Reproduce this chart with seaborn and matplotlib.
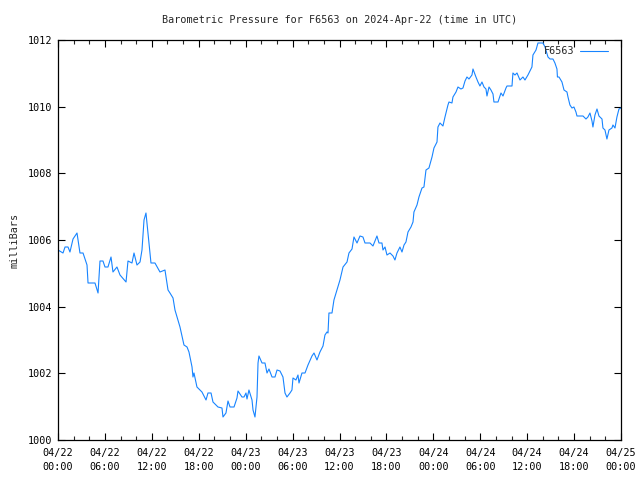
import matplotlib
matplotlib.use("Agg")
import matplotlib.pyplot as plt
import matplotlib.dates as mdates
import seaborn as sns
import pandas as pd
import numpy as np

# hours since 2024-04-22 00:00 UTC
hours = [0.0, 0.64, 0.90, 1.28, 1.53, 1.92, 2.43, 2.81, 3.20, 3.71, 3.84, 4.73, 5.12, 5.37, 5.75,
         6.01, 6.39, 6.78, 7.03, 7.54, 7.93, 8.70, 8.95, 9.46, 9.72, 10.10, 10.49, 10.74, 11.00,
         11.25, 11.51, 11.89, 12.40, 13.04, 13.68, 14.07, 14.32, 14.71, 14.96, 15.60, 16.11,
         16.50, 16.75, 17.14, 17.26, 17.39, 17.77, 18.41, 18.93, 19.18, 19.57, 19.82, 20.46,
         20.97, 21.10, 21.48, 21.74, 22.00, 22.51, 22.89, 23.02, 23.53, 23.79, 24.04, 24.17,
         24.42, 24.81, 24.94, 25.19, 25.45, 25.58, 25.70, 26.09, 26.47, 26.73, 26.98, 27.37,
         27.75, 28.01, 28.39, 28.77, 29.03, 29.28, 29.67, 29.92, 30.05, 30.43, 30.69, 30.82,
         31.20, 31.59, 31.97, 32.48, 32.74, 33.12, 33.50, 33.89, 34.14, 34.40, 34.53, 34.65,
         35.04, 35.29, 35.68, 36.06, 36.45, 36.96, 37.21, 37.60, 37.85, 38.24, 38.62, 39.00,
         39.26, 39.90, 40.28, 40.79, 41.05, 41.43, 41.56, 41.82, 42.07, 42.46, 42.84, 43.09,
         43.35, 43.73, 43.99, 44.25, 44.50, 44.76, 45.14, 45.40, 45.52, 45.91, 46.16, 46.55,
         46.80, 47.06, 47.44, 47.83, 48.08, 48.47, 48.59, 48.85, 49.23, 49.49, 49.87, 50.00,
         50.38, 50.51, 50.90, 51.15, 51.53, 51.79, 52.05, 52.30, 52.56, 52.94, 53.07, 53.45,
         53.71, 53.96, 54.22, 54.48, 54.73, 54.86, 55.12, 55.37, 55.63, 55.75, 56.27, 56.65,
         56.91, 57.29, 57.42, 58.06, 58.18, 58.44, 58.70, 59.08, 59.46, 59.72, 60.10, 60.61,
         60.74, 61.13, 61.38, 62.02, 62.28, 62.66, 62.92, 63.30, 63.55, 63.81, 63.87, 64.07,
         64.45, 64.71, 65.09, 65.22, 65.47, 65.73, 65.98, 66.24, 66.37, 67.14, 67.52, 67.77,
         68.03, 68.29, 68.41, 68.67, 68.93, 69.18, 69.57, 69.69, 69.95, 70.20, 70.46, 70.84,
         70.97, 71.23, 71.48, 71.74, 72.0]

pressure = [1005.70, 1005.61, 1005.79, 1005.79, 1005.64, 1006.03, 1006.21, 1005.61, 1005.61,
            1005.25, 1004.71, 1004.71, 1004.41, 1005.37, 1005.37, 1005.19, 1005.19, 1005.49,
            1005.04, 1005.19, 1004.95, 1004.74, 1005.37, 1005.31, 1005.61, 1005.25, 1005.34,
            1005.70, 1006.60, 1006.81, 1006.21, 1005.31, 1005.31, 1005.04, 1005.10, 1004.50,
            1004.41, 1004.26, 1003.90, 1003.39, 1002.85, 1002.79, 1002.64, 1002.19, 1001.89,
            1002.01, 1001.59, 1001.44, 1001.20, 1001.41, 1001.41, 1001.14, 1000.99, 1000.96,
            1000.69, 1000.81, 1001.17, 1000.99, 1000.99, 1001.26, 1001.47, 1001.29, 1001.29,
            1001.41, 1001.23, 1001.50, 1001.20, 1000.90, 1000.69, 1001.29, 1002.31, 1002.52,
            1002.31, 1002.31, 1002.01, 1002.13, 1001.89, 1001.89, 1002.10, 1002.07, 1001.89,
            1001.41, 1001.29, 1001.41, 1001.50, 1001.86, 1001.80, 1001.95, 1001.71, 1002.01,
            1002.01, 1002.25, 1002.52, 1002.61, 1002.40, 1002.64, 1002.82, 1003.15, 1003.24,
            1003.21, 1003.81, 1003.81, 1004.20, 1004.50, 1004.80, 1005.19, 1005.34, 1005.61,
            1005.73, 1006.09, 1005.91, 1006.12, 1006.09, 1005.91, 1005.91, 1005.82, 1006.12,
            1005.91, 1005.91, 1005.70, 1005.79, 1005.55, 1005.61, 1005.52, 1005.40, 1005.61,
            1005.79, 1005.64, 1005.85, 1005.94, 1006.24, 1006.39, 1006.54, 1006.84, 1007.05,
            1007.29, 1007.56, 1007.59, 1008.10, 1008.16, 1008.49, 1008.76, 1008.94, 1009.39,
            1009.51, 1009.42, 1009.69, 1010.05, 1010.14, 1010.11, 1010.29, 1010.44, 1010.59,
            1010.53, 1010.56, 1010.77, 1010.89, 1010.83, 1010.95, 1011.13, 1010.89, 1010.74,
            1010.62, 1010.74, 1010.59, 1010.53, 1010.32, 1010.59, 1010.50, 1010.38, 1010.14,
            1010.14, 1010.41, 1010.32, 1010.56, 1010.62, 1010.62, 1011.01, 1010.95, 1011.01,
            1010.80, 1010.89, 1010.80, 1010.95, 1011.19, 1011.55, 1011.70, 1011.91, 1011.91,
            1011.79, 1011.49, 1011.43, 1011.43, 1011.31, 1011.13, 1010.89, 1010.89, 1010.74,
            1010.50, 1010.44, 1010.29, 1010.05, 1009.96, 1009.99, 1009.84, 1009.72, 1009.72,
            1009.63, 1009.69, 1009.81, 1009.57, 1009.39, 1009.75, 1009.93, 1009.72, 1009.63,
            1009.36, 1009.30, 1009.03, 1009.30, 1009.36, 1009.45, 1009.36, 1009.69, 1009.93,
            1009.96]

station = "F6563"
title = "Barometric Pressure for F6563 on 2024-Apr-22 (time in UTC)"
ylabel = "milliBars"
y_ticks = [1000, 1002, 1004, 1006, 1008, 1010, 1012]

start = pd.Timestamp("2024-04-22 00:00")
end = pd.Timestamp("2024-04-25 00:00")
df = pd.DataFrame({
    "time": start + pd.to_timedelta(hours, unit="h"),
    "pressure": pressure,
    "station": station,
})

sns.set_style("ticks")
plt.rcParams["font.family"] = ["DejaVu Sans Mono"]
plt.rcParams["font.size"] = 7

fig = plt.figure(figsize=(6.4, 4.8), dpi=100)
ax = fig.add_axes([58 / 640, 40 / 480, (621 - 58) / 640, 400 / 480])

sns.lineplot(data=df, x="time", y="pressure", hue="station",
             palette=["#1784ff"], linewidth=0.8, ax=ax)

ax.set_xlim(start, end)
ax.set_ylim(1000, 1012)
ax.set_yticks(y_ticks)
ax.xaxis.set_major_locator(mdates.HourLocator(byhour=[0, 6, 12, 18]))
ax.xaxis.set_minor_locator(mdates.HourLocator(interval=2))
ax.xaxis.set_major_formatter(mdates.DateFormatter("%m/%d\n%H:%M"))

ax.tick_params(axis="both", which="major", direction="in", length=5, width=0.8,
               top=True, right=True, labelsize=7.3, colors="black")
ax.tick_params(axis="y", which="major", pad=4)
ax.tick_params(axis="x", which="major", pad=6)
ax.tick_params(axis="x", which="minor", direction="in", length=3, width=0.8,
               top=True, bottom=True)
for lbl in ax.get_xticklabels():
    lbl.set_linespacing(1.45)
for s in ax.spines.values():
    s.set_visible(True)
    s.set_linewidth(0.9)
    s.set_color("black")

ax.set_xlabel("")
ax.set_ylabel(ylabel, fontsize=7.3, labelpad=6)
ax.set_title(title, fontsize=7.3, pad=12)

leg = ax.legend(loc="upper right", frameon=False, markerfirst=False,
                handlelength=2.8, fontsize=7.3, borderaxespad=0.2,
                handletextpad=0.5, bbox_to_anchor=(0.988, 1.0))
ax.grid(False)

fig.savefig("out.png", dpi=100)
